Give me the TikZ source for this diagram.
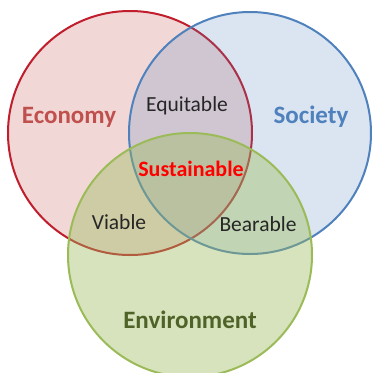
\documentclass[tikz,border=0pt]{standalone}
\usepackage{fontspec}
\setmainfont{Carlito}
\definecolor{ecoR}{RGB}{192,30,45}
\definecolor{ecoT}{RGB}{192,80,77}
\definecolor{socB}{RGB}{79,129,189}
\definecolor{envG}{RGB}{155,187,89}
\definecolor{envT}{RGB}{79,98,40}
\definecolor{susR}{RGB}{255,0,0}
\tikzset{
  venn/.style={line width=2pt},
  big/.style={font=\fontsize{25}{25}\selectfont\bfseries, inner sep=0pt},
  small/.style={font=\fontsize{21.5}{21.5}\selectfont, inner sep=0pt, text=black!85},
}
\begin{document}
\begin{tikzpicture}[x=1pt,y=-1pt]
\useasboundingbox (0,0) rectangle (372,373);
\clip (0,0) rectangle (372,373);
\fill[white] (0,0) rectangle (372,373);
\draw[venn, draw=ecoR, fill=ecoT, fill opacity=0.22] (130,133) circle (122);
\draw[venn, draw=socB, fill=socB, fill opacity=0.2] (250,133) circle (121);
\draw[venn, draw=envG, fill=envG, fill opacity=0.4] (190,255) circle (122);
\node[big, text=ecoT] (eco) at (69,117) {Economy};
\node[big, text=socB] (soc) at (311,117) {Society};
\node[big, text=envT] (env) at (190,320) {Environment};
\node[small] (equ) at (187,106) {Equitable};
\node[small] (via) at (119,222) {Viable};
\node[small] (bea) at (258,224) {Bearable};
\node[font=\fontsize{22}{22}\selectfont\bfseries, inner sep=0pt, text=susR] (sus) at (191,169) {Sustainable};
\end{tikzpicture}
\end{document}
